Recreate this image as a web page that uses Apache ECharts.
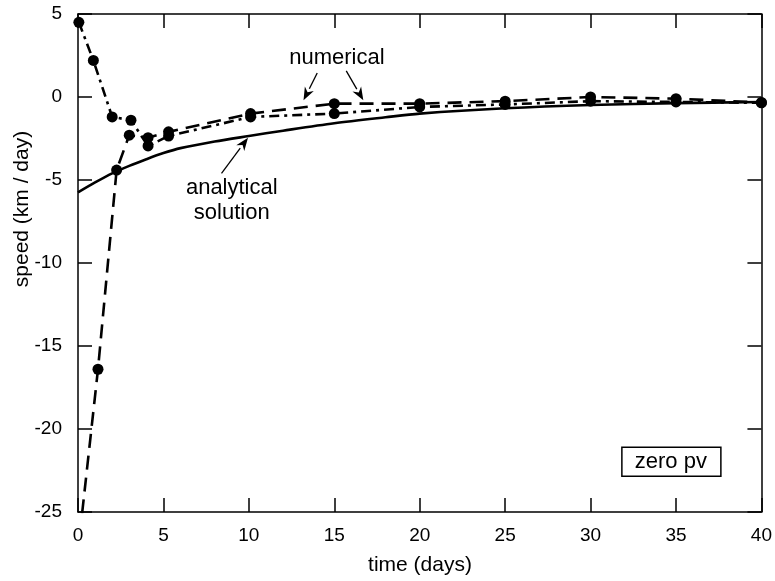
<!DOCTYPE html>
<html>
<head>
<meta charset="utf-8">
<script src="https://cdn.jsdelivr.net/npm/echarts@6/dist/echarts.min.js"></script>
<style>html,body{margin:0;padding:0;background:#fff}#c{width:775px;height:581px}</style>
</head>
<body>
<div id="c"></div>
<script>
// Analytical solution (solid curve)
var analyticT = [0, 1, 2, 3, 4, 5, 6, 8, 10, 12, 15, 18, 20, 25, 30, 35, 40];
var analyticV = [-5.75, -5.15, -4.6, -4.15, -3.75, -3.38, -3.08, -2.68, -2.35, -2.03, -1.58, -1.22, -1.0, -0.68, -0.48, -0.37, -0.3];
// Numerical, dashed line
var dashT = [0.1, 1.17, 2.26, 3.0, 4.1, 5.3, 10.1, 15.0, 20.0, 25.0, 30.0, 35.0, 40.0];
var dashV = [-26.4, -16.4, -4.4, -2.3, -2.45, -2.1, -1.0, -0.4, -0.4, -0.25, 0.0, -0.1, -0.33];
// Numerical, dash-dot line
var dotT = [0.05, 0.9, 2.0, 3.1, 4.1, 5.3, 10.1, 15.0, 20.0, 25.0, 30.0, 35.0, 40.0];
var dotV = [4.5, 2.2, -1.2, -1.4, -2.95, -2.35, -1.2, -1.0, -0.6, -0.45, -0.25, -0.3, -0.35];
// Axis ticks
var xTicks = [0, 5, 10, 15, 20, 25, 30, 35, 40];
var yTicks = [-25, -20, -15, -10, -5, 0, 5];

function pairs(t, v) { return t.map(function (x, i) { return [x, v[i]]; }); }

var FONT = 'Liberation Sans, Arial, Helvetica, sans-serif';
var chart = echarts.init(document.getElementById('c'), null, {renderer: 'canvas'});
function axisCommon() {
  return {
    axisLine: {show: true, onZero: false, lineStyle: {color: '#000', width: 1.5}},
    axisTick: {show: true, inside: true, length: 14, lineStyle: {color: '#000', width: 1.5}},
    splitLine: {show: false}
  };
}
var option = {
  backgroundColor: '#fff',
  animation: false,
  grid: {left: 78, right: 13, top: 14, bottom: 69},
  xAxis: [
    Object.assign({type: 'value', min: xTicks[0], max: xTicks[xTicks.length - 1], interval: 5, position: 'bottom',
      axisLabel: {color: '#000', fontSize: 19, fontFamily: FONT, margin: 14}}, axisCommon()),
    Object.assign({type: 'value', min: xTicks[0], max: xTicks[xTicks.length - 1], interval: 5, position: 'top',
      axisLabel: {show: false}}, axisCommon())
  ],
  yAxis: [
    Object.assign({type: 'value', min: yTicks[0], max: yTicks[yTicks.length - 1], interval: 5, position: 'left',
      axisLabel: {color: '#000', fontSize: 19, fontFamily: FONT, margin: 16}}, axisCommon()),
    Object.assign({type: 'value', min: yTicks[0], max: yTicks[yTicks.length - 1], interval: 5, position: 'right',
      axisLabel: {show: false}}, axisCommon())
  ],
  series: [
    {type: 'line', name: 'analytical', data: pairs(analyticT, analyticV), smooth: 0.3, showSymbol: false, symbol: 'none',
      lineStyle: {color: '#000', width: 2.6, type: 'solid'}, clip: true, z: 3},
    {type: 'line', name: 'numerical dashed', data: pairs(dashT, dashV), symbol: 'circle', symbolSize: 11, showSymbol: true,
      itemStyle: {color: '#000'}, lineStyle: {color: '#000', width: 2.6, type: [14, 8]}, clip: true, z: 4},
    {type: 'line', name: 'numerical dash-dot', data: pairs(dotT, dotV), symbol: 'circle', symbolSize: 11, showSymbol: true,
      itemStyle: {color: '#000'}, lineStyle: {color: '#000', width: 2.6, type: [10, 5, 3, 5]}, clip: true, z: 4}
  ]
};
chart.setOption(option);

function px(t, v) { return chart.convertToPixel({xAxisIndex: 0, yAxisIndex: 0}, [t, v]); }
function arrow(p0, p1) {
  var dx = p1[0] - p0[0], dy = p1[1] - p0[1];
  var L = Math.sqrt(dx * dx + dy * dy); var ux = dx / L, uy = dy / L;
  var hl = 13, hw = 5;
  var bx = p1[0] - ux * hl, by = p1[1] - uy * hl;
  return [
    {type: 'line', shape: {x1: p0[0], y1: p0[1], x2: bx, y2: by}, style: {stroke: '#000', lineWidth: 1.3}, z: 10},
    {type: 'polygon', shape: {points: [[p1[0], p1[1]], [bx - uy * hw, by + ux * hw], [p1[0] - ux * hl * 0.7, p1[1] - uy * hl * 0.7], [bx + uy * hw, by - ux * hw]]},
      style: {fill: '#000'}, z: 10}
  ];
}
var tStyle = {fill: '#000', font: '22px ' + FONT, textAlign: 'center', textVerticalAlign: 'middle'};
function txt(p, s, extra) {
  return {type: 'text', x: p[0], y: p[1], style: Object.assign({text: s}, tStyle, extra || {}), z: 10};
}
var numC = px(15.15, 2.35);
var anaC = px(9.0, -5.5);
var solC = px(9.0, -7.0);
var zpC = px(34.7, -22.0);
var g = [];
g.push(txt(numC, 'numerical'));
g = g.concat(arrow(px(14.0, 1.45), px(13.2, -0.2)));
g = g.concat(arrow(px(15.7, 1.57), px(16.7, -0.2)));
g.push(txt(anaC, 'analytical'));
g.push(txt(solC, 'solution'));
g = g.concat(arrow(px(8.4, -4.6), px(9.95, -2.45)));
g.push({type: 'rect', shape: {x: zpC[0] - 49, y: zpC[1] - 15, width: 99, height: 29}, style: {fill: '#fff', stroke: '#000', lineWidth: 1.5}, z: 10});
g.push(txt(zpC, 'zero pv', {font: '22px ' + FONT}));
g.push({type: 'text', x: 420, y: 565, style: Object.assign({text: 'time (days)'}, tStyle, {font: '21px ' + FONT}), z: 10});
g.push({type: 'text', x: 22, y: 209, rotation: Math.PI / 2, style: Object.assign({text: 'speed (km / day)'}, tStyle, {font: '21px ' + FONT}), z: 10});
chart.setOption({graphic: {elements: g}});
</script>
</body>
</html>
